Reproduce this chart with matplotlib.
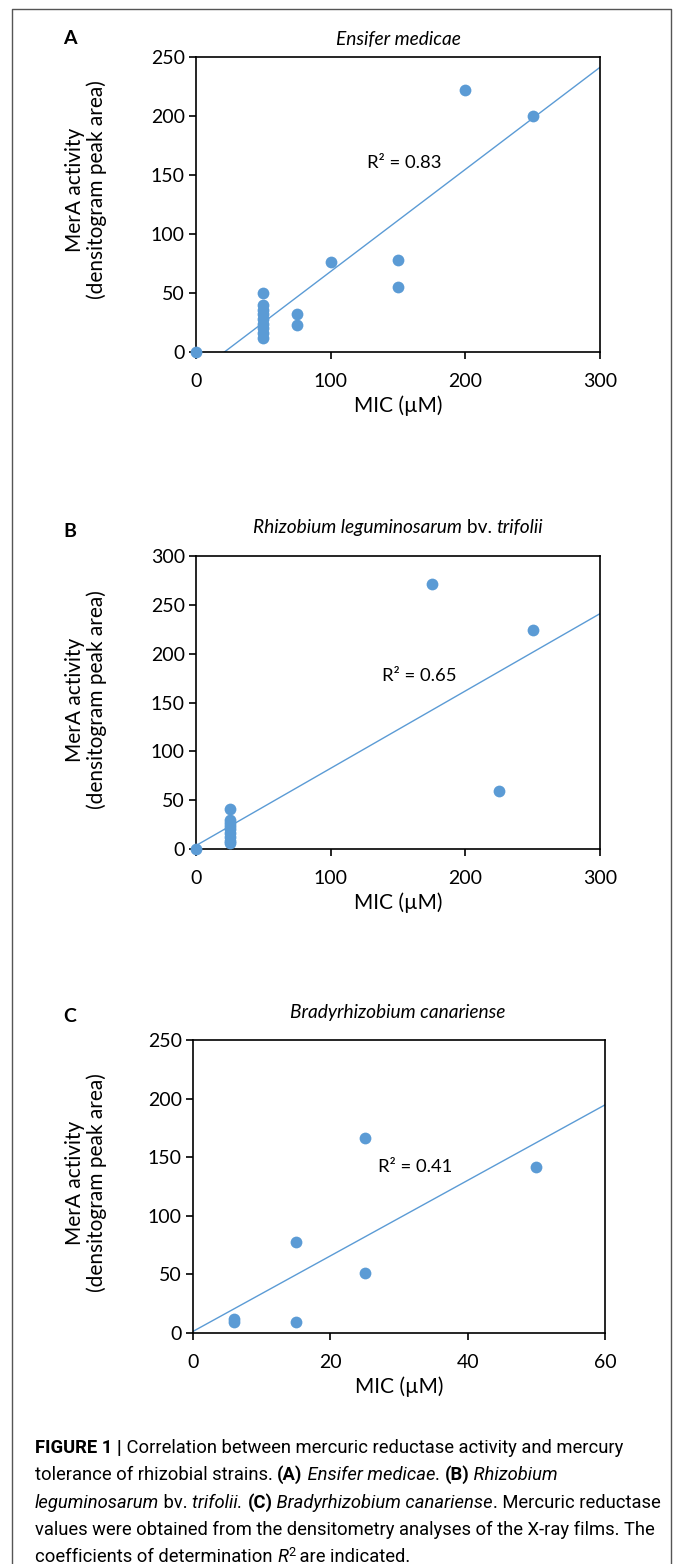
import matplotlib
matplotlib.use("Agg")
import matplotlib.pyplot as plt
import numpy as np

W, H = 673, 1564

# panel A - Ensifer medicae
mic_a = [0, 50, 50, 50, 50, 50, 50, 50, 50, 50, 75, 75, 100, 150, 150, 200, 250]
mera_a = [0, 50, 40, 36, 32, 28, 24, 20, 16, 12, 32, 23, 76, 78, 55, 222, 200]

# panel B - Rhizobium leguminosarum bv. trifolii
mic_b = [0, 25, 25, 25, 25, 25, 25, 25, 25, 25, 175, 225, 250]
mera_b = [0, 41, 30, 27, 24, 20, 16, 12, 8, 6, 271, 59, 224]

# panel C - Bradyrhizobium canariense
mic_c = [6, 6, 15, 15, 25, 25, 50]
mera_c = [12, 9, 9, 78, 166, 51, 142]

r2_labels = ["R² = 0.83", "R² = 0.65", "R² = 0.41"]

blue = "#5B9BD5"
pfont = "Lato"
cfont = ["Roboto", "DejaVu Sans"]

fig = plt.figure(figsize=(W / 100, H / 100), dpi=100)
rend = fig.canvas.get_renderer()


def px_axes(l, t, r, b):
    return fig.add_axes([l / W, 1 - b / H, (r - l) / W, (b - t) / H])


def runs_text(runs, x, y, size, family, ha="left"):
    # draw a line made of differently styled pieces, x/y in pixels (baseline)
    items = []
    for run in runs:
        s, wt, st = run[:3]
        scale = run[3] if len(run) > 3 else 1.0
        dy = run[4] if len(run) > 4 else 0
        kw = dict(fontsize=size * scale, fontweight=wt, fontstyle=st, family=family)
        t = fig.text(0, 0, s, va="baseline", **kw)
        probe = fig.text(0, 0, s + "|", **kw)
        bar = fig.text(0, 0, "|", **kw)
        w = probe.get_window_extent(rend).width - bar.get_window_extent(rend).width
        probe.remove()
        bar.remove()
        items.append((t, w, dy))
    total = sum(w for _, w, _ in items)
    if ha == "center":
        x -= total / 2
    for t, w, dy in items:
        t.set_position((x / W, 1 - (y - dy) / H))
        x += w


def panel(box, mic, mera, xmax, xstep, ymax, ystep, r2, r2pos, label_y):
    ax = px_axes(*box)
    ax.scatter(mic, mera, s=72, color=blue, zorder=3, clip_on=False, linewidths=0)
    slope, icpt = np.polyfit(mic, mera, 1)
    xs = np.array([0, xmax])
    ys = slope * xs + icpt
    ax.plot(xs, ys, color=blue, lw=1.0, zorder=2)
    ax.set_xlim(0, xmax)
    ax.set_ylim(0, ymax)
    ax.set_xticks(np.arange(0, xmax + 1, xstep))
    ax.set_yticks(np.arange(0, ymax + 1, ystep))
    for sp in ax.spines.values():
        sp.set_linewidth(1.2)
    ax.tick_params(direction="out", length=5, width=1.2, labelsize=14)
    ax.tick_params(axis="x", pad=10)
    ax.tick_params(axis="y", pad=3)
    for lab in ax.get_xticklabels() + ax.get_yticklabels():
        lab.set_family(pfont)
    ax.set_xlabel("MIC (µM)", fontsize=15, family=pfont, labelpad=4)
    ax.text(r2pos[0], r2pos[1], r2, fontsize=13.3, family=pfont, ha="center", va="center")
    fig.text(86 / W, 1 - label_y / H, "MerA activity\n(densitogram peak area)",
             rotation=90, ha="center", va="center", fontsize=15, family=pfont,
             multialignment="center", linespacing=1.05)
    return ax


panel((196, 57, 600, 352), mic_a, mera_a, 300, 100, 250, 50, r2_labels[0], (155, 160), 190)
panel((196, 556, 600, 849), mic_b, mera_b, 300, 100, 300, 50, r2_labels[1], (166, 177), 700)
panel((193, 1040, 605, 1333), mic_c, mera_c, 60, 20, 250, 50, r2_labels[2], (32.3, 142), 1183)

# panel letters and titles
for letter, ty in [("A", 44), ("B", 537), ("C", 1022)]:
    fig.text(63 / W, 1 - ty / H, letter, fontsize=14, fontweight="bold", family=pfont, va="baseline")

runs_text([("Ensifer medicae", "normal", "italic")], 398, 45, 13.8, pfont, ha="center")
runs_text([("Rhizobium leguminosarum", "normal", "italic"), (" bv. ", "normal", "normal"),
           ("trifolii", "normal", "italic")], 398, 533, 13.8, pfont, ha="center")
runs_text([("Bradyrhizobium canariense", "normal", "italic")], 398, 1018, 13.8, pfont, ha="center")

# caption
cap_lines = [
    [("FIGURE 1 |", "bold", "normal"),
     (" Correlation between mercuric reductase activity and mercury", "normal", "normal")],
    [("tolerance of rhizobial strains. ", "normal", "normal"), ("(A)", "bold", "normal"),
     (" Ensifer medicae", "normal", "italic"), (". ", "normal", "normal"),
     ("(B)", "bold", "normal"), (" Rhizobium", "normal", "italic")],
    [("leguminosarum", "normal", "italic"), (" bv. ", "normal", "normal"),
     ("trifolii. ", "normal", "italic"), ("(C)", "bold", "normal"),
     (" Bradyrhizobium canariense", "normal", "italic"),
     (". Mercuric reductase", "normal", "normal")],
    [("values were obtained from the densitometry analyses of the X-ray films. The", "normal", "normal")],
    [("coefficients of determination ", "normal", "normal"), ("R", "normal", "italic"),
     ("2", "normal", "normal", 0.7, 6), (" are indicated.", "normal", "normal")],
]
for i, line in enumerate(cap_lines):
    runs_text(line, 35, 1453 + i * 27.3, 13.2, cfont)

# outer frame
frame = plt.Line2D([12 / W, 12 / W, 671 / W, 671 / W], [0, 1 - 9 / H, 1 - 9 / H, 0],
                   transform=fig.transFigure, color="#555555", lw=1.0)
fig.add_artist(frame)

fig.savefig("out.png", dpi=100)
